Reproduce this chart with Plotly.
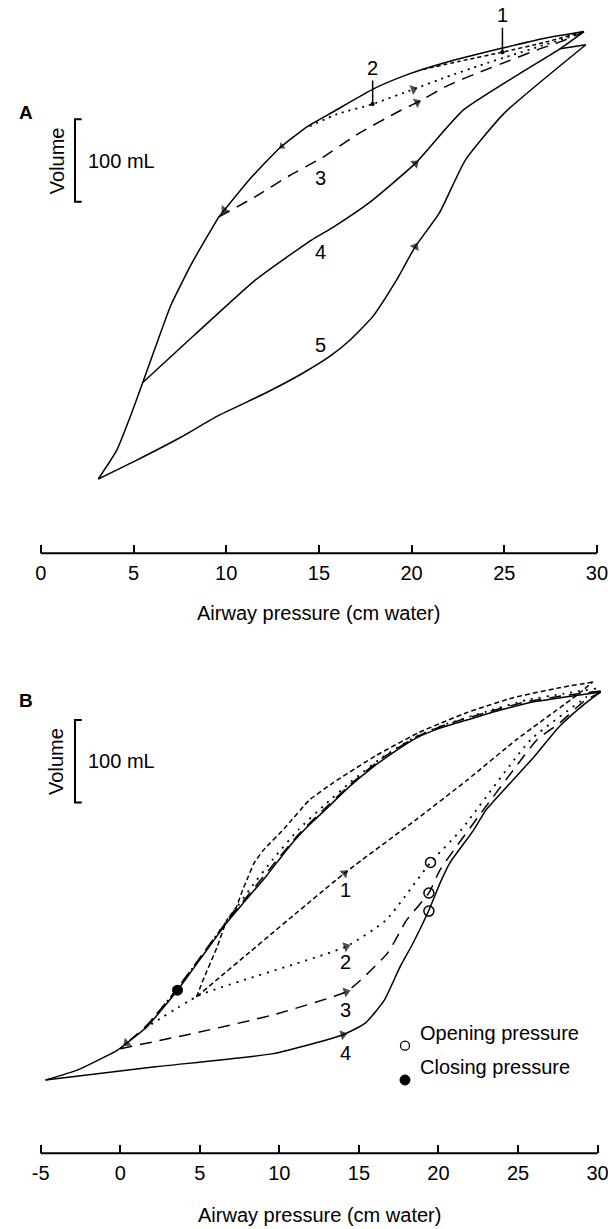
import numpy as np
import plotly.graph_objects as go

FONT = "Liberation Sans, Arial, sans-serif"

# ---------------- Panel A (airway pressure cm H2O, volume mL above minimum) -------------
A_defl_P = [29.3, 27.2, 24.9, 21.6, 19.8, 18.0, 15.8, 14.4, 12.9, 11.2, 9.6, 8.2, 7.0, 6.2, 5.5, 4.9, 4.1, 3.1]
A_defl_V = [543, 535, 523, 504, 491, 474, 446, 428, 402, 362, 318, 264, 210, 161, 117, 80, 35, 0]
A5_P = [3.1, 5.1, 7.5, 9.5, 12.1, 14.1, 15.6, 16.7, 17.9, 19.2, 20.2, 21.5, 22.9, 25.0, 29.4]
A5_V = [0, 22, 50, 76, 104, 128, 149, 169, 197, 242, 282, 323, 387, 444, 527]
A5_notch_P = [29.4, 28.0]
A5_notch_V = [527, 522]
A4_P = [5.5, 8.3, 11.6, 14.6, 15.8, 17.7, 20.2, 22.8, 28.0, 29.3]
A4_V = [117, 175, 242, 290, 306, 335, 383, 448, 522, 543]
A3_P = [9.6, 11.6, 13.4, 15.1, 17.2, 19.3, 20.3, 22.0, 23.7, 25.3, 26.8, 28.2, 29.3]
A3_V = [318, 343, 368, 389, 420, 446, 457, 478, 494, 508, 521, 532, 543]
A2_P = [14.5, 16.0, 17.9, 20.1, 21.9, 23.7, 25.5, 26.9, 28.2, 29.3]
A2_V = [428, 443, 455, 473, 488, 502, 515, 525, 534, 543]
A1_P = [20.6, 22.6, 24.9, 27.2, 29.3]
A1_V = [497, 507, 518, 530, 543]

# ---------------- Panel B ----------------
B4_defl_P = [30.2, 28.1, 26.0, 23.9, 21.8, 20.1, 18.6, 17.2, 15.9, 14.4, 13.0, 11.9, 10.7, 9.2, 7.7, 6.7, 5.6, 4.4, 3.6, 1.7, -0.2, -2.7, -4.7]
B4_defl_V = [471, 465, 459, 449, 437, 427, 415, 398, 380, 356, 330, 310, 285, 248, 214, 191, 162, 130, 109, 65, 36, 12, 0]
B4_infl_P = [-4.7, 2.2, 9.6, 14.0, 15.4, 16.6, 17.6, 18.4, 19.4, 20.1, 20.7, 22.2, 23.0, 24.3, 26.0, 27.6, 29.1, 30.2]
B4_infl_V = [0, 16, 32, 55, 69, 97, 138, 166, 206, 239, 263, 303, 328, 356, 392, 429, 455, 471]

B1_defl_P = [29.7, 27.6, 24.7, 21.8, 18.8, 16.1, 13.4, 11.9, 10.3, 9.0, 8.4, 8.05, 7.7, 7.3, 6.7, 6.1, 5.2, 4.8]
B1_defl_V = [483, 476, 464, 446, 422, 394, 361, 340, 305, 279, 263, 247, 231, 210, 194, 162, 121, 101]
B1_infl_P = [4.8, 14.1, 18.6, 21.8, 24.9, 28.7, 29.7]
B1_infl_V = [101, 251, 316, 364, 413, 467, 483]

B2_defl_P = [29.9, 27.9, 25.5, 23.0, 20.5, 18.5, 16.5, 14.5, 12.8, 11.2, 9.6, 8.2, 7.0, 5.8, 4.6, 3.4, 2.5, 1.5]
B2_defl_V = [475, 469, 461, 447, 432, 416, 392, 362, 333, 304, 268, 233, 201, 169, 137, 106, 85, 62]
B2_infl_P = [1.5, 5.0, 14.2, 16.7, 19.5, 21.4, 25.8, 29.3, 29.9]
B2_infl_V = [62, 103, 162, 194, 264, 303, 413, 465, 475]

B3_defl_P = [30.2, 27.9, 25.5, 23.0, 20.5, 18.5, 16.5, 14.5, 12.8, 11.2, 9.6, 8.2, 7.0, 5.8, 4.6, 3.4, 1.7, 0.0]
B3_defl_V = [472, 466.5, 459, 446, 431.5, 415.5, 391, 359.5, 328.5, 298, 261, 228, 200, 169.5, 137.5, 106.5, 67, 38]
B3_infl_P = [0.0, 4.7, 9.6, 14.2, 15.1, 16.8, 18.0, 19.4, 20.1, 22.6, 24.7, 26.2, 27.6, 29.1, 30.2]
B3_infl_V = [38, 57, 79, 107, 121, 154, 194, 227, 255, 322, 376, 413, 433, 459, 471]

open_P = [19.5, 19.4, 19.4]
open_V = [264, 227, 205]
close_P = [3.6]
close_V = [109]

A_ticks = [0, 5, 10, 15, 20, 25, 30]
B_ticks = [-5, 0, 5, 10, 15, 20, 25, 30]

fig = go.Figure()

def line(P, V, dash="solid", ax="A", width=1.5, smooth=0.5):
    xa, ya = ("x", "y") if ax == "A" else ("x2", "y2")
    ln = dict(color="black", width=width, dash=dash)
    if smooth:
        ln.update(shape="spline", smoothing=smooth)
    fig.add_trace(go.Scatter(x=P, y=V, mode="lines", xaxis=xa, yaxis=ya, line=ln,
                             hoverinfo="skip", showlegend=False))

def arrow(P, V, p0, ax="A", size=9):
    P = np.asarray(P, float); V = np.asarray(V, float)
    xa, ya = ("x", "y") if ax == "A" else ("x2", "y2")
    for i in range(len(P) - 1):
        a, b = P[i], P[i + 1]
        if a != b and (a - p0) * (b - p0) <= 0:
            t = (p0 - a) / (b - a)
            hx = a + t * (b - a); hy = V[i] + t * (V[i + 1] - V[i])
            tx = hx - 0.05 * (b - a); ty = hy - 0.05 * (V[i + 1] - V[i])
            fig.add_trace(go.Scatter(x=[tx, hx], y=[ty, hy], mode="markers", xaxis=xa, yaxis=ya,
                                     marker=dict(symbol="triangle-up", size=[0, size], color="black",
                                                 angleref="previous", line=dict(width=0)),
                                     hoverinfo="skip", showlegend=False))
            return

SHORT = "4px,3px"
DOT = "2px,5px"
LONG = "12px,8px"

# Panel A
line(A_defl_P[:11], A_defl_V[:11])
line(A_defl_P[10:], A_defl_V[10:])
line(A5_P, A5_V)
line(A5_notch_P, A5_notch_V, smooth=0)
line(A4_P, A4_V)
line(A3_P, A3_V, LONG)
line(A2_P, A2_V, DOT, width=1.8)
line(A1_P, A1_V, SHORT)
arrow(A5_P, A5_V, 20.2)
arrow(A4_P, A4_V, 20.2)
arrow(A3_P, A3_V, 20.3)
arrow(A2_P, A2_V, 20.1)
arrow(A_defl_P, A_defl_V, 9.9)
arrow(A_defl_P, A_defl_V, 13.0, size=7)

# Panel B
line(B4_defl_P, B4_defl_V, ax="B", smooth=0.4)
line(B4_infl_P, B4_infl_V, ax="B")
line(B1_defl_P, B1_defl_V, "5px,3px", ax="B", smooth=0.4)
line(B1_infl_P, B1_infl_V, "5px,3px", ax="B")
line(B2_defl_P, B2_defl_V, "2px,6px", ax="B", width=1.8, smooth=0.4)
line(B2_infl_P, B2_infl_V, "2px,6px", ax="B", width=1.8)
line(B3_defl_P, B3_defl_V, LONG, ax="B", smooth=0.4)
line(B3_infl_P, B3_infl_V, LONG, ax="B")
arrow(B1_infl_P, B1_infl_V, 14.1, ax="B")
arrow(B2_infl_P, B2_infl_V, 14.2, ax="B")
arrow(B3_infl_P, B3_infl_V, 14.2, ax="B")
arrow(B4_infl_P, B4_infl_V, 14.0, ax="B")
arrow(B3_defl_P, B3_defl_V, 0.4, ax="B")

fig.add_trace(go.Scatter(x=open_P, y=open_V, mode="markers", xaxis="x2", yaxis="y2",
                         marker=dict(symbol="circle-open", size=10, color="black", line=dict(width=1.5)),
                         hoverinfo="skip", showlegend=False))
fig.add_trace(go.Scatter(x=close_P, y=close_V, mode="markers", xaxis="x2", yaxis="y2",
                         marker=dict(symbol="circle", size=11, color="black"),
                         hoverinfo="skip", showlegend=False))

W, H = 608, 1229
axis_common = dict(showgrid=False, zeroline=False, showline=False, ticks="inside", ticklen=8,
                   tickwidth=2, tickcolor="black", tickfont=dict(size=20, family=FONT, color="black"),
                   ticklabelstandoff=6, ticklabeloverflow="allow", fixedrange=True)
fig.update_layout(
    width=W, height=H, margin=dict(l=0, r=0, t=0, b=0),
    paper_bgcolor="white", plot_bgcolor="rgba(0,0,0,0)", showlegend=False,
    font=dict(family=FONT, size=20, color="black"),
    xaxis=dict(domain=[0, 1], range=[-2.2006, 30.594], anchor="y",
               tickvals=A_ticks, ticktext=[str(t) for t in A_ticks], **axis_common),
    yaxis=dict(domain=[0.5498, 1.0], range=[-90.2, 581.3], visible=False, fixedrange=True),
    xaxis2=dict(domain=[0, 1], range=[-7.558, 30.657], anchor="y2",
                tickvals=B_ticks, ticktext=[str(t) for t in B_ticks], **axis_common),
    yaxis2=dict(domain=[0.0616, 0.47925], range=[-88.96, 534.0], visible=False, fixedrange=True),
)

shapes = [
    dict(type="line", xref="x", yref="y domain", x0=A_ticks[0], x1=A_ticks[-1], y0=0, y1=0,
         line=dict(color="black", width=2)),
    dict(type="line", xref="x2", yref="y2 domain", x0=B_ticks[0], x1=B_ticks[-1], y0=0, y1=0,
         line=dict(color="black", width=2)),
    # 100 mL scale bars
    dict(type="path", xref="x", yref="y", path="M 2.206,436.5 L 1.845,436.5 L 1.845,336.5 L 2.206,336.5",
         line=dict(color="black", width=2)),
    dict(type="path", xref="x2", yref="y2", path="M -2.42,436.9 L -2.844,436.9 L -2.844,336.9 L -2.42,336.9",
         line=dict(color="black", width=2)),
    # legend keys
    dict(type="circle", xref="paper", yref="paper", x0=(405 - 4.5) / W, x1=(405 + 4.5) / W,
         y0=1 - (1045.7 + 4.5) / H, y1=1 - (1045.7 - 4.5) / H, line=dict(color="black", width=1.3)),
    dict(type="circle", xref="paper", yref="paper", x0=(405 - 5) / W, x1=(405 + 5) / W,
         y0=1 - (1080 + 5) / H, y1=1 - (1080 - 5) / H, line=dict(color="black", width=1), fillcolor="black"),
]
fig.update_layout(shapes=shapes)

ann = []
def txt(x, y, s, xref="x", yref="y", **kw):
    d = dict(x=x, y=y, text=s, xref=xref, yref=yref, showarrow=False,
             font=dict(size=20, family=FONT, color="black"))
    d.update(kw)
    ann.append(d)

# panel letters
txt(17 / W, 1 - 100 / H, "<b>A</b>", "paper", "paper", font=dict(size=19, family=FONT, color="black"))
txt(17 / W, 1 - 700 / H, "<b>B</b>", "paper", "paper", font=dict(size=19, family=FONT, color="black"))
# scale bar texts
txt(2.44, 386.5, "100 mL", xanchor="left")
txt(0.858, 386.5, "Volume", textangle=-90)
txt(-2.153, 386.9, "100 mL", "x2", "y2", xanchor="left")
txt(-3.994, 386.9, "Volume", "x2", "y2", textangle=-90)
# axis titles
txt(15, 1 - 613 / H, "Airway pressure (cm water)", "x", "paper")
txt(12.5, 1 - 1228 / H, "Airway pressure (cm water)", "x2", "paper", yanchor="bottom")
# curve numbers A
txt(15.06, 365, "3")
txt(15.06, 275.5, "4")
txt(15.06, 162.6, "5")
ann.append(dict(x=24.9, y=518, xref="x", yref="y", text="1", showarrow=True, ax=0, ay=-37,
                arrowhead=6, arrowsize=0.7, arrowwidth=1.5, arrowcolor="black",
                font=dict(size=20, family=FONT, color="black")))
ann.append(dict(x=17.9, y=455, xref="x", yref="y", text="2", showarrow=True, ax=0, ay=-36,
                arrowhead=6, arrowsize=0.7, arrowwidth=1.5, arrowcolor="black",
                font=dict(size=20, family=FONT, color="black")))
# curve numbers B
txt(14.14, 230.6, "1", "x2", "y2")
txt(14.14, 143.6, "2", "x2", "y2")
txt(14.14, 85, "3", "x2", "y2")
txt(14.14, 32.4, "4", "x2", "y2")
# legend text
txt(418 / W, 1 - 1045.7 / H, "Opening pressure", "paper", "paper", xanchor="left")
txt(418 / W, 1 - 1080 / H, "Closing pressure", "paper", "paper", xanchor="left")
fig.update_layout(annotations=ann)

fig.write_html("out.html")
